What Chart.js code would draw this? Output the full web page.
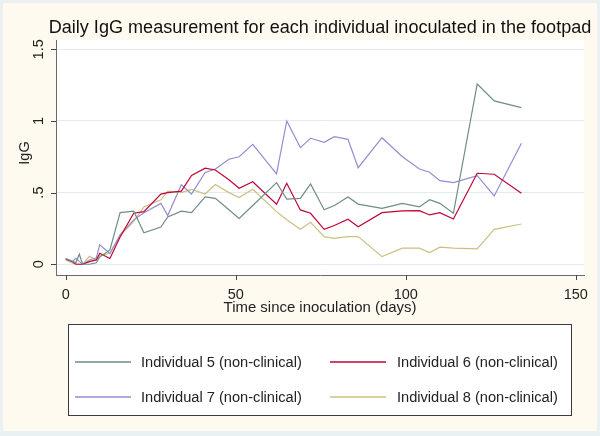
<!DOCTYPE html>
<html>
<head>
<meta charset="utf-8">
<script src="https://cdn.jsdelivr.net/npm/chart.js@4.4.1/dist/chart.umd.min.js"></script>
<style>
html,body{margin:0;padding:0;background:#fefaef;}
canvas{display:block;}
</style>
</head>
<body>
<canvas id="c" width="600" height="436"></canvas>
<script>
// ---- data ----
const days = [0, 2, 3, 4, 5, 7, 9, 10, 13, 16, 20, 23, 28, 30, 34, 37, 41, 44, 48, 51, 55, 62, 65, 69, 72, 76, 79, 83, 86, 93, 99, 104, 107, 110, 114, 121, 126, 134];
const igg5 = [0.04, 0.02, 0.01, 0.07, 0.00, 0.00, 0.01, 0.05, 0.10, 0.36, 0.37, 0.22, 0.26, 0.33, 0.37, 0.36, 0.47, 0.46, 0.38, 0.32, 0.41, 0.57, 0.455, 0.46, 0.56, 0.38, 0.41, 0.47, 0.42, 0.39, 0.425, 0.40, 0.45, 0.425, 0.356, 1.258, 1.14, 1.093];
const igg6 = [0.037, 0.018, 0.00, 0.00, 0.00, 0.018, 0.03, 0.077, 0.04, 0.19, 0.356, 0.367, 0.49, 0.50, 0.51, 0.62, 0.67, 0.658, 0.59, 0.53, 0.576, 0.419, 0.565, 0.379, 0.356, 0.244, 0.27, 0.314, 0.262, 0.36, 0.372, 0.374, 0.344, 0.36, 0.316, 0.635, 0.628, 0.495];
const igg7 = [0.035, 0.02, 0.042, 0.02, 0.00, 0.03, 0.045, 0.135, 0.075, 0.205, 0.31, 0.36, 0.425, 0.34, 0.555, 0.49, 0.64, 0.665, 0.733, 0.75, 0.837, 0.63, 1.00, 0.814, 0.879, 0.851, 0.89, 0.872, 0.674, 0.883, 0.75, 0.665, 0.642, 0.583, 0.57, 0.618, 0.477, 0.844];
const igg8 = [0.03, 0.007, 0.00, 0.00, 0.00, 0.055, 0.03, 0.06, 0.077, 0.20, 0.30, 0.40, 0.45, 0.51, 0.50, 0.523, 0.49, 0.556, 0.50, 0.465, 0.523, 0.367, 0.31, 0.244, 0.293, 0.193, 0.18, 0.193, 0.193, 0.053, 0.112, 0.112, 0.081, 0.119, 0.112, 0.107, 0.244, 0.281];

const seriesNames = ['Individual 5 (non-clinical)', 'Individual 6 (non-clinical)', 'Individual 7 (non-clinical)', 'Individual 8 (non-clinical)'];
const xTickValues = [0, 50, 100, 150];
const xTickLabels = ['0', '50', '100', '150'];
const yTickValues = [0, 0.5, 1, 1.5];
const yTickLabels = ['0', '.5', '1', '1.5'];
const chartTitle = 'Daily IgG measurement for each individual inoculated in the footpad';
const xTitle = 'Time since inoculation (days)';
const yTitle = 'IgG';

// ---- styles ----
const colors = ['#6e8e84', '#c10534', '#938dd2', '#cac27e'];
const FONT = '"Liberation Sans", Arial, sans-serif';

function pts(vals) { return days.map((d, i) => ({ x: d, y: vals[i] })); }
const allSeries = [igg5, igg6, igg7, igg8];

const datasets = allSeries.map((v, i) => ({
  label: seriesNames[i],
  data: pts(v),
  borderColor: colors[i],
  borderWidth: 1.2,
  pointRadius: 0,
  fill: false,
  tension: 0
}));

function fitSize(ctx, text, width, base) {
  ctx.font = base + 'px ' + FONT;
  const w = ctx.measureText(text).width;
  return base * width / w;
}

const decor = {
  id: 'decor',
  beforeDraw(chart) {
    const ctx = chart.ctx;
    const a = chart.chartArea;
    ctx.save();
    ctx.fillStyle = '#e9f1f2';
    ctx.fillRect(0, 0, chart.width, chart.height);
    ctx.fillStyle = '#fffaef';
    ctx.fillRect(3, 3, chart.width - 6, chart.height - 8);
    ctx.fillStyle = '#ffffff';
    ctx.fillRect(a.left, a.top, a.right - a.left, a.bottom - a.top);
    ctx.restore();
  },
  afterDraw(chart) {
    const ctx = chart.ctx;
    const xs = chart.scales.x, ys = chart.scales.y;
    const a = chart.chartArea;
    ctx.save();
    // tick marks
    ctx.strokeStyle = '#444';
    ctx.lineWidth = 1;
    ctx.beginPath();
    yTickValues.forEach(v => {
      const y = Math.round(ys.getPixelForValue(v)) + 0.5;
      ctx.moveTo(a.left - 5, y); ctx.lineTo(a.left, y);
    });
    xTickValues.forEach(v => {
      const x = Math.round(xs.getPixelForValue(v)) + 0.5;
      ctx.moveTo(x, a.bottom); ctx.lineTo(x, a.bottom + 5);
    });
    ctx.stroke();

    ctx.fillStyle = '#222';
    // y tick labels (rotated)
    ctx.font = '14.5px ' + FONT;
    ctx.textAlign = 'center';
    ctx.textBaseline = 'alphabetic';
    yTickValues.forEach((v, i) => {
      const y = ys.getPixelForValue(v);
      ctx.save();
      ctx.translate(43, y);
      ctx.rotate(-Math.PI / 2);
      ctx.fillText(yTickLabels[i], 0, 0);
      ctx.restore();
    });
    // y title
    ctx.save();
    ctx.translate(28.5, 153);
    ctx.rotate(-Math.PI / 2);
    ctx.fillText(yTitle, 0, 0);
    ctx.restore();
    // x tick labels
    xTickValues.forEach((v, i) => {
      ctx.fillText(xTickLabels[i], xs.getPixelForValue(v), 298.5);
    });
    // x title
    ctx.font = fitSize(ctx, xTitle, 193, 14) + 'px ' + FONT;
    ctx.fillText(xTitle, (a.left + a.right) / 2, 312);
    // chart title
    ctx.fillStyle = '#111';
    ctx.font = fitSize(ctx, chartTitle, 543, 16) + 'px ' + FONT;
    ctx.fillText(chartTitle, (a.left + a.right) / 2, 33);

    // legend
    ctx.fillStyle = '#ffffff';
    ctx.fillRect(68.5, 324.5, 503, 91);
    ctx.strokeStyle = '#3a3a3a';
    ctx.lineWidth = 1;
    ctx.strokeRect(68.5, 324.5, 503, 91);
    const cols = [[75, 131, 141], [330, 386, 397]];
    const rows = [362, 397];
    const fs = fitSize(ctx, seriesNames[0], 161, 14);
    chart.data.datasets.forEach((ds, i) => {
      const c = cols[i % 2], r = rows[Math.floor(i / 2)];
      ctx.strokeStyle = ds.borderColor;
      ctx.lineWidth = 1.5;
      ctx.beginPath();
      ctx.moveTo(c[0], r); ctx.lineTo(c[1], r);
      ctx.stroke();
      ctx.fillStyle = '#222';
      ctx.font = fs + 'px ' + FONT;
      ctx.textAlign = 'left';
      ctx.textBaseline = 'middle';
      ctx.fillText(ds.label, c[2], r + 1);
    });
    ctx.restore();
  }
};

new Chart(document.getElementById('c'), {
  type: 'line',
  data: { datasets },
  options: {
    responsive: false,
    devicePixelRatio: 1,
    animation: false,
    events: [],
    layout: { padding: { left: 56, top: 40, right: 16, bottom: 161 } },
    plugins: { legend: { display: false }, title: { display: false }, tooltip: { enabled: false } },
    scales: {
      x: {
        type: 'linear',
        min: -2.85, max: 152.4,
        afterBuildTicks: s => { s.ticks = xTickValues.map(v => ({ value: v })); },
        ticks: { display: false },
        grid: { display: false, drawTicks: false },
        border: { display: true, color: '#6a6a6a', width: 1 },
        title: { display: false }
      },
      y: {
        type: 'linear',
        min: -0.075, max: 1.565,
        afterBuildTicks: s => { s.ticks = yTickValues.map(v => ({ value: v })); },
        ticks: { display: false },
        grid: { display: true, drawTicks: false, color: '#e2ebf0', lineWidth: 1 },
        border: { display: true, color: '#6a6a6a', width: 1 },
        title: { display: false }
      }
    }
  },
  plugins: [decor]
});
</script>
</body>
</html>
